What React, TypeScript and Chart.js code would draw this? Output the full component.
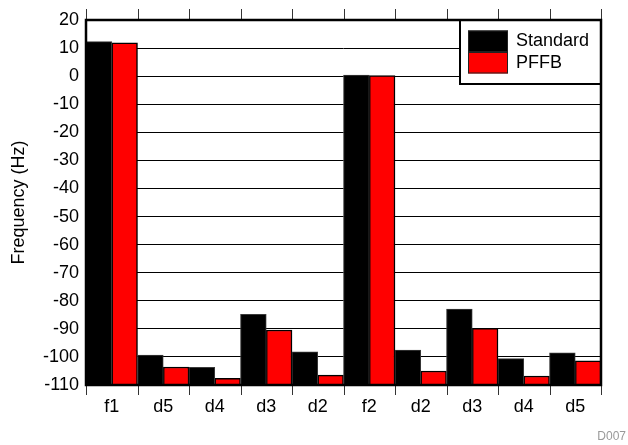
import React, { useEffect, useRef } from "react";
import { Chart, registerables } from "chart.js";

Chart.register(...registerables);

const categories = ["f1", "d5", "d4", "d3", "d2", "f2", "d2", "d3", "d4", "d5"];
const standardValues = [12.3, -99.3, -103.7, -84.8, -98.2, 0.4, -97.6, -83.0, -100.6, -98.5];
const pffbValues = [11.9, -103.6, -107.6, -90.4, -106.5, 0.2, -105.0, -89.8, -106.8, -101.4];
const seriesNames = ["Standard", "PFFB"];
const seriesColors = ["#000000", "#ff0000"];
const yMin = -110;
const yMax = 20;
const yStep = 10;
const yTitle = "Frequency (Hz)";
const footnote = "D007";

const FONT = "'Liberation Sans', Arial, sans-serif";

const framePlugin = {
  id: "frame",
  afterDatasetsDraw(chart: any) {
    const ctx = chart.ctx;
    const { right, top } = chart.chartArea;
    const lx = right - 141;
    const ly = top;
    const lw = 141;
    const lh = 64;
    ctx.save();
    ctx.fillStyle = "#fff";
    ctx.fillRect(lx, ly, lw, lh);
    ctx.lineWidth = 2;
    ctx.strokeStyle = "#000";
    ctx.strokeRect(lx, ly, lw, lh);
    chart.data.datasets.forEach((ds: any, i: number) => {
      const sy = ly + 10.5 + i * 21.5;
      ctx.fillStyle = ds.backgroundColor;
      ctx.fillRect(lx + 8, sy, 40, 21.5);
      ctx.lineWidth = 1;
      ctx.strokeStyle = "#222";
      ctx.strokeRect(lx + 8.5, sy + 0.5, 39, 20.5);
      ctx.fillStyle = "#000";
      ctx.font = `18px ${FONT}`;
      ctx.textAlign = "left";
      ctx.textBaseline = "middle";
      ctx.fillText(ds.label, lx + 56, sy + 11);
    });
    ctx.restore();
  },
  afterDraw(chart: any) {
    const ctx = chart.ctx;
    const { left, right, top, bottom } = chart.chartArea;
    const xs = chart.scales.x;
    const n = chart.data.labels.length;
    const step = xs.getPixelForValue(1) - xs.getPixelForValue(0);
    ctx.save();
    ctx.strokeStyle = "#333";
    ctx.lineWidth = 1;
    for (let i = 0; i <= n; i++) {
      let x = xs.getPixelForValue(Math.min(i, n - 1)) + (i < n ? -step / 2 : step / 2);
      x = Math.round(x) + 0.5;
      ctx.beginPath();
      ctx.moveTo(x, top - 11);
      ctx.lineTo(x, top);
      ctx.moveTo(x, bottom);
      ctx.lineTo(x, bottom + 10);
      ctx.stroke();
    }
    ctx.lineWidth = 2.5;
    ctx.strokeStyle = "#000";
    ctx.strokeRect(left, top, right - left, bottom - top);
    ctx.fillStyle = "#999";
    ctx.font = `12px ${FONT}`;
    ctx.textAlign = "right";
    ctx.textBaseline = "alphabetic";
    ctx.fillText(footnote, 626, 440);
    ctx.restore();
  },
};

export default function App() {
  const ref = useRef<HTMLCanvasElement | null>(null);
  useEffect(() => {
    document.body.style.margin = "0";
    const canvas = ref.current!;
    const chart = new Chart(canvas, {
      type: "bar",
      data: {
        labels: categories,
        datasets: [
          {
            label: seriesNames[0],
            data: standardValues,
            backgroundColor: seriesColors[0],
            borderColor: "#3a3a3a",
            borderWidth: 1,
            base: yMin,
            barPercentage: 1,
            categoryPercentage: 1,
          } as any,
          {
            label: seriesNames[1],
            data: pffbValues,
            backgroundColor: seriesColors[1],
            borderColor: "#000",
            borderWidth: 1.5,
            base: yMin,
            barPercentage: 1,
            categoryPercentage: 1,
          } as any,
        ],
      },
      options: {
        animation: false,
        responsive: false,
        devicePixelRatio: 1,
        layout: { padding: { top: 20, right: 27, left: 0, bottom: 0 } },
        plugins: {
          legend: { display: false },
          tooltip: { enabled: false },
        },
        scales: {
          x: {
            type: "category",
            offset: true,
            grid: { display: false, drawTicks: false },
            border: { display: false },
            ticks: { color: "#000", font: { family: FONT, size: 18 }, padding: 11, maxRotation: 0 },
            afterFit: (s: any) => {
              s.height = 60;
            },
          },
          y: {
            min: yMin,
            max: yMax,
            grid: { color: "#000", lineWidth: 1, drawTicks: false },
            border: { display: false },
            ticks: { stepSize: yStep, color: "#000", font: { family: FONT, size: 18 }, padding: 7 },
            title: {
              display: true,
              text: yTitle,
              color: "#000",
              font: { family: FONT, size: 18 },
              padding: { top: 8, bottom: 0 },
            },
            afterFit: (s: any) => {
              s.width = 86;
            },
          },
        },
      },
      plugins: [framePlugin],
    });
    return () => chart.destroy();
  }, []);
  return (
    <div style={{ width: 628, height: 445 }}>
      <canvas ref={ref} width={628} height={445} style={{ display: "block", width: 628, height: 445 }} />
    </div>
  );
}
